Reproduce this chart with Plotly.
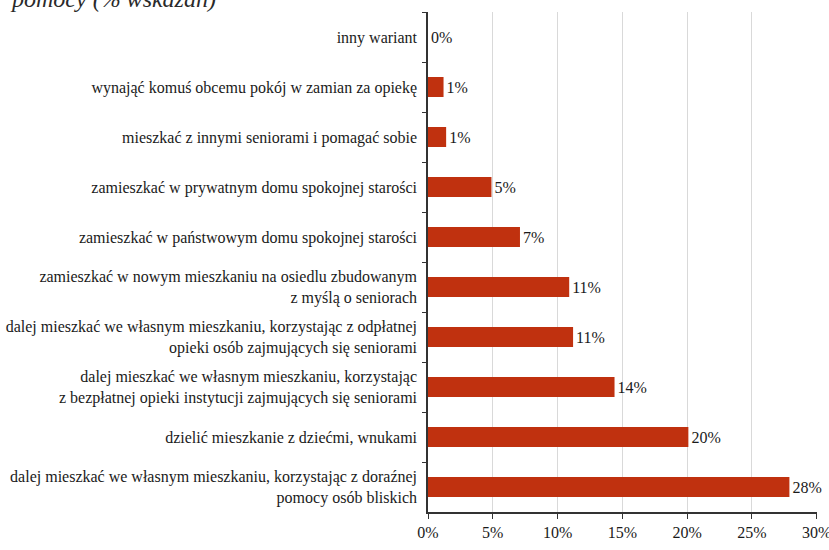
import plotly.graph_objects as go

# Answer options, listed top to bottom
categories = [
    "inny wariant",
    "wynająć komuś obcemu pokój w zamian za opiekę",
    "mieszkać z innymi seniorami i pomagać sobie",
    "zamieszkać w prywatnym domu spokojnej starości",
    "zamieszkać w państwowym domu spokojnej starości",
    "zamieszkać w nowym mieszkaniu na osiedlu zbudowanym<br>z myślą o seniorach",
    "dalej mieszkać we własnym mieszkaniu, korzystając z odpłatnej<br>opieki osób zajmujących się seniorami",
    "dalej mieszkać we własnym mieszkaniu, korzystając<br>z bezpłatnej opieki instytucji zajmujących się seniorami",
    "dzielić mieszkanie z dziećmi, wnukami",
    "dalej mieszkać we własnym mieszkaniu, korzystając z doraźnej<br>pomocy osób bliskich",
]
# Share of answers (%)
shares = [0.0, 1.2, 1.4, 4.9, 7.1, 10.9, 11.2, 14.4, 20.1, 27.9]

x_tickvals = [0, 5, 10, 15, 20, 25, 30]
x_ticktext = ["0%", "5%", "10%", "15%", "20%", "25%", "30%"]

FONT = "Liberation Serif"
BAR = "#c0310f"

fig = go.Figure(
    go.Bar(
        x=shares,
        y=categories,
        orientation="h",
        marker=dict(color=BAR, line=dict(width=0)),
        texttemplate="%{x:.0f}%",
        textposition="outside",
        textfont=dict(family=FONT, size=16, color="#1a1a1a"),
        cliponaxis=False,
        hoverinfo="skip",
    )
)

fig.update_layout(
    width=829,
    height=550,
    margin=dict(l=428, r=12, t=12, b=38, autoexpand=False),
    paper_bgcolor="white",
    plot_bgcolor="white",
    bargap=0.6,
    showlegend=False,
    font=dict(family=FONT, size=16, color="#1a1a1a"),
    annotations=[
        dict(
            text="<i>pomocy (% wskazań)</i>",
            xref="paper", yref="paper",
            x=0, y=1,
            xanchor="left", yanchor="bottom",
            xshift=-420, yshift=-2,
            showarrow=False,
            font=dict(family=FONT, size=24, color="#2a2a2a"),
        )
    ],
)

fig.update_xaxes(
    range=[0, 30.03],
    tickvals=x_tickvals,
    ticktext=x_ticktext,
    ticklabeloverflow="allow",
    showgrid=True,
    gridcolor="#d9d9d9",
    gridwidth=1,
    showline=True,
    linecolor="#333333",
    linewidth=1.5,
    ticks="outside",
    ticklen=5,
    tickcolor="#333333",
    tickfont=dict(family=FONT, size=16, color="#1a1a1a"),
    zeroline=False,
    automargin=False,
    fixedrange=True,
)

fig.update_yaxes(
    autorange="reversed",
    showline=True,
    linecolor="#333333",
    linewidth=1.5,
    ticks="outside",
    tickson="boundaries",
    ticklen=4,
    tickcolor="#333333",
    tickfont=dict(family=FONT, size=16, color="#1a1a1a"),
    ticklabelstandoff=6,
    showgrid=False,
    automargin=False,
    fixedrange=True,
)

fig.write_html("out.html")
